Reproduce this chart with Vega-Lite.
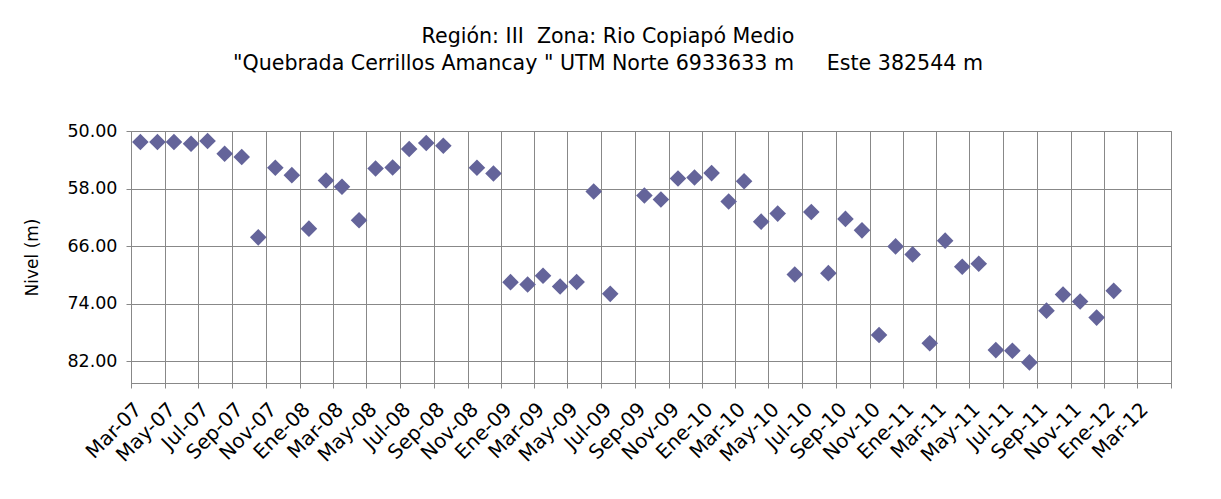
{
  "$schema": "https://vega.github.io/schema/vega-lite/v6.json",
  "width": 1040,
  "height": 252,
  "autosize": {"type": "none"},
  "padding": {"left": 131, "top": 131, "right": 50, "bottom": 116},
  "background": "white",
  "title": {
    "text": ["Región:\u00a0III\u00a0\u00a0Zona:\u00a0Rio Copiapó Medio", "\"Quebrada Cerrillos Amancay \" UTM Norte 6933633 m\u00a0\u00a0\u00a0\u00a0\u00a0Este 382544 m"],
    "font": "DejaVu Sans",
    "fontSize": 20.6,
    "fontWeight": "normal",
    "color": "black",
    "lineHeight": 27,
    "anchor": "middle",
    "dx": -43,
    "offset": 47
  },
  "data": {
    "values": [
      {"fecha": "2007-03-18T00:00", "nivel": 51.53},
      {"fecha": "2007-04-18T00:00", "nivel": 51.53},
      {"fecha": "2007-05-18T00:00", "nivel": 51.53},
      {"fecha": "2007-06-18T00:00", "nivel": 51.76},
      {"fecha": "2007-07-18T00:00", "nivel": 51.39},
      {"fecha": "2007-08-18T00:00", "nivel": 53.15},
      {"fecha": "2007-09-18T00:00", "nivel": 53.62},
      {"fecha": "2007-10-18T00:00", "nivel": 64.77},
      {"fecha": "2007-11-18T00:00", "nivel": 55.10},
      {"fecha": "2007-12-18T00:00", "nivel": 56.13},
      {"fecha": "2008-01-18T00:00", "nivel": 63.56},
      {"fecha": "2008-02-18T00:00", "nivel": 56.87},
      {"fecha": "2008-03-18T00:00", "nivel": 57.75},
      {"fecha": "2008-04-18T00:00", "nivel": 62.40},
      {"fecha": "2008-05-18T00:00", "nivel": 55.20},
      {"fecha": "2008-06-18T00:00", "nivel": 55.06},
      {"fecha": "2008-07-18T00:00", "nivel": 52.51},
      {"fecha": "2008-08-18T00:00", "nivel": 51.67},
      {"fecha": "2008-09-18T00:00", "nivel": 52.04},
      {"fecha": "2008-11-18T00:00", "nivel": 55.10},
      {"fecha": "2008-12-18T00:00", "nivel": 55.90},
      {"fecha": "2009-01-18T00:00", "nivel": 70.99},
      {"fecha": "2009-02-18T00:00", "nivel": 71.32},
      {"fecha": "2009-03-18T00:00", "nivel": 70.11},
      {"fecha": "2009-04-18T00:00", "nivel": 71.60},
      {"fecha": "2009-05-18T00:00", "nivel": 70.97},
      {"fecha": "2009-06-18T00:00", "nivel": 58.40},
      {"fecha": "2009-07-18T00:00", "nivel": 72.62},
      {"fecha": "2009-09-18T00:00", "nivel": 58.96},
      {"fecha": "2009-10-18T00:00", "nivel": 59.52},
      {"fecha": "2009-11-18T00:00", "nivel": 56.59},
      {"fecha": "2009-12-18T00:00", "nivel": 56.45},
      {"fecha": "2010-01-18T00:00", "nivel": 55.85},
      {"fecha": "2010-02-18T00:00", "nivel": 59.80},
      {"fecha": "2010-03-18T00:00", "nivel": 56.97},
      {"fecha": "2010-04-18T00:00", "nivel": 62.59},
      {"fecha": "2010-05-18T00:00", "nivel": 61.47},
      {"fecha": "2010-06-18T00:00", "nivel": 69.93},
      {"fecha": "2010-07-18T00:00", "nivel": 61.24},
      {"fecha": "2010-08-18T00:00", "nivel": 69.74},
      {"fecha": "2010-09-18T00:00", "nivel": 62.21},
      {"fecha": "2010-10-18T00:00", "nivel": 63.80},
      {"fecha": "2010-11-18T00:00", "nivel": 78.33},
      {"fecha": "2010-12-18T00:00", "nivel": 66.03},
      {"fecha": "2011-01-18T00:00", "nivel": 67.14},
      {"fecha": "2011-02-18T00:00", "nivel": 79.49},
      {"fecha": "2011-03-18T00:00", "nivel": 65.23},
      {"fecha": "2011-04-18T00:00", "nivel": 68.86},
      {"fecha": "2011-05-18T00:00", "nivel": 68.44},
      {"fecha": "2011-06-18T00:00", "nivel": 80.43},
      {"fecha": "2011-07-18T00:00", "nivel": 80.52},
      {"fecha": "2011-08-18T00:00", "nivel": 82.14},
      {"fecha": "2011-09-18T00:00", "nivel": 74.95},
      {"fecha": "2011-10-18T00:00", "nivel": 72.72},
      {"fecha": "2011-11-18T00:00", "nivel": 73.69},
      {"fecha": "2011-12-18T00:00", "nivel": 75.92},
      {"fecha": "2012-01-18T00:00", "nivel": 72.20}
    ]
  },
  "mark": {"type": "point", "shape": "diamond", "filled": true, "size": 275, "color": "#64649a", "opacity": 1},
  "encoding": {
    "x": {
      "field": "fecha",
      "type": "temporal",
      "scale": {"domain": [{"year": 2007, "month": 3, "date": 1}, {"year": 2012, "month": 5, "date": 1}], "nice": false},
      "axis": {
        "title": null,
        "tickCount": {"interval": "month", "step": 2},
        "labelExpr": "datum.value > datetime(2012, 3, 15) ? '' : ['Ene','Feb','Mar','Abr','May','Jun','Jul','Ago','Sep','Oct','Nov','Dic'][month(datum.value)] + '-' + timeFormat(datum.value, '%y')",
        "labelAngle": -45,
        "labelAlign": "right",
        "labelBaseline": "top",
        "labelFlush": false,
        "labelOverlap": false,
        "labelFont": "DejaVu Sans",
        "labelFontSize": 20,
        "labelColor": "black",
        "labelPadding": 11,
        "grid": true,
        "gridColor": "#888888",
        "gridOpacity": 1,
        "domainColor": "#888888",
        "tickColor": "#888888",
        "tickSize": 5
      }
    },
    "y": {
      "field": "nivel",
      "type": "quantitative",
      "scale": {"domain": [50, 85], "reverse": true, "nice": false, "zero": false},
      "axis": {
        "title": "Nivel (m)",
        "titleFont": "DejaVu Sans",
        "titleFontSize": 17,
        "titleFontWeight": "normal",
        "titleColor": "black",
        "titlePadding": 25,
        "values": [50, 58, 66, 74, 82],
        "format": ".2f",
        "labelFont": "DejaVu Sans",
        "labelFontSize": 17.5,
        "labelColor": "black",
        "labelPadding": 9,
        "grid": true,
        "gridColor": "#888888",
        "gridOpacity": 1,
        "domainColor": "#888888",
        "tickColor": "#888888",
        "tickSize": 5
      }
    }
  },
  "config": {"view": {"stroke": "#888888", "strokeWidth": 1}}
}
